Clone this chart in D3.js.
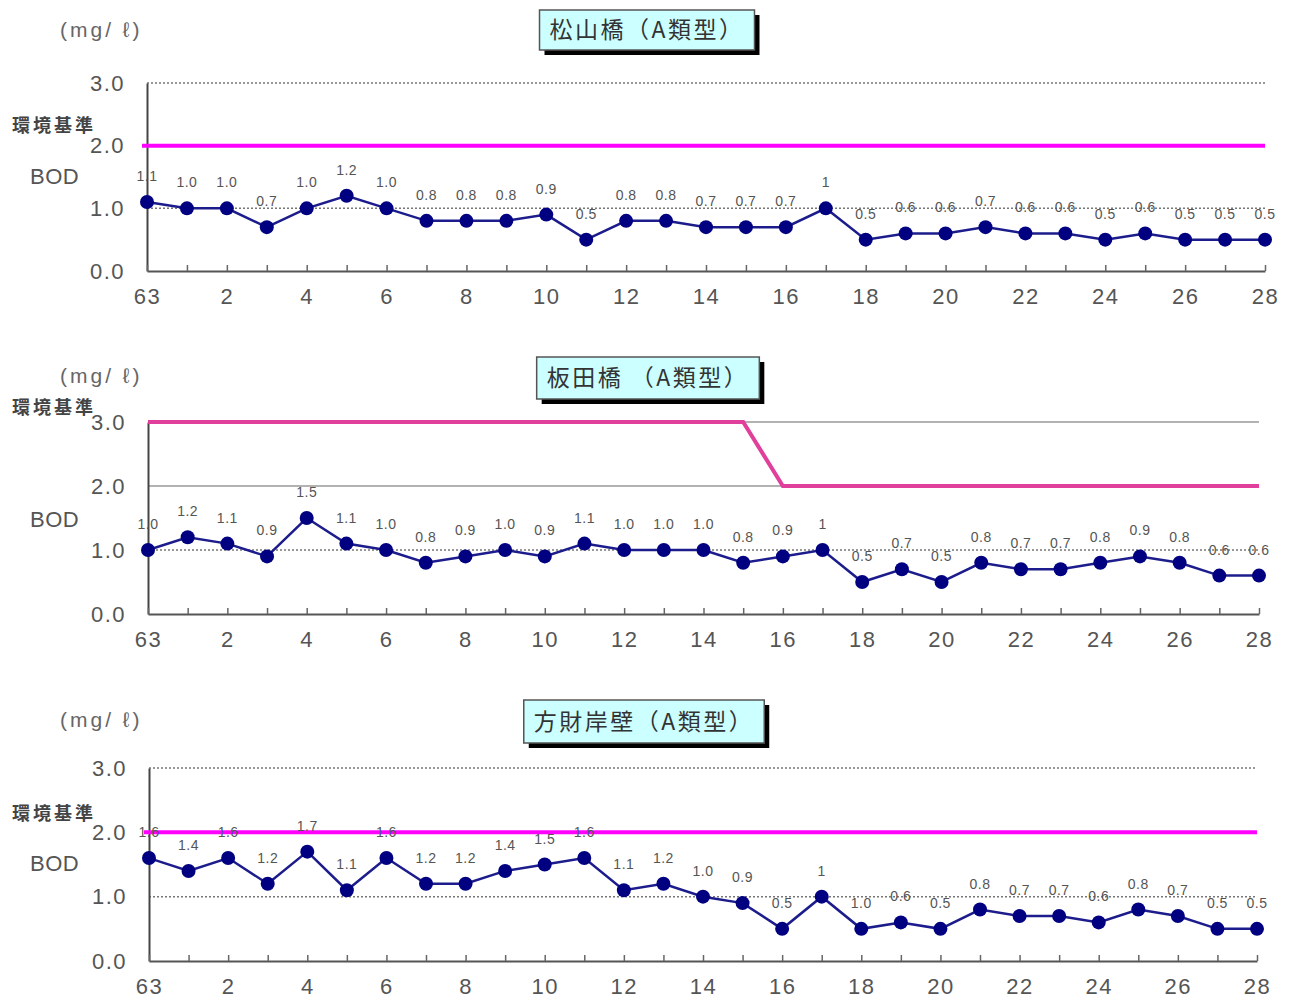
<!DOCTYPE html>
<html><head><meta charset="utf-8">
<script src="https://cdn.jsdelivr.net/npm/d3@7"></script>
<style>
body{margin:0;background:#fff;}
svg{display:block;}
text{font-family:"Liberation Sans",Arial,sans-serif;}
.cjk{font-family:"Noto Sans CJK JP",sans-serif;}
</style></head>
<body>
<svg id="chart" width="1293" height="998"></svg>
<script>
// ---- data ----
const years = ["63","1","2","3","4","5","6","7","8","9","10","11","12","13","14","15","16","17","18","19","20","21","22","23","24","25","26","27","28"];
const tickYears = ["63","2","4","6","8","10","12","14","16","18","20","22","24","26","28"];
const yTicks = [0, 1, 2, 3];
const titles = ["松山橋（A類型）", "板田橋 （A類型）", "方財岸壁（A類型）"];

const bodMatsuyama = [1.1,1.0,1.0,0.7,1.0,1.2,1.0,0.8,0.8,0.8,0.9,0.5,0.8,0.8,0.7,0.7,0.7,1.0,0.5,0.6,0.6,0.7,0.6,0.6,0.5,0.6,0.5,0.5,0.5];
const lblMatsuyama = ["1.1","1.0","1.0","0.7","1.0","1.2","1.0","0.8","0.8","0.8","0.9","0.5","0.8","0.8","0.7","0.7","0.7","1","0.5","0.6","0.6","0.7","0.6","0.6","0.5","0.6","0.5","0.5","0.5"];
const stdMatsuyama = [2,2,2,2,2,2,2,2,2,2,2,2,2,2,2,2,2,2,2,2,2,2,2,2,2,2,2,2,2];

const bodItada = [1.0,1.2,1.1,0.9,1.5,1.1,1.0,0.8,0.9,1.0,0.9,1.1,1.0,1.0,1.0,0.8,0.9,1.0,0.5,0.7,0.5,0.8,0.7,0.7,0.8,0.9,0.8,0.6,0.6];
const lblItada = ["1.0","1.2","1.1","0.9","1.5","1.1","1.0","0.8","0.9","1.0","0.9","1.1","1.0","1.0","1.0","0.8","0.9","1","0.5","0.7","0.5","0.8","0.7","0.7","0.8","0.9","0.8","0.6","0.6"];
const stdItada = [3,3,3,3,3,3,3,3,3,3,3,3,3,3,3,3,2,2,2,2,2,2,2,2,2,2,2,2,2];

const bodHozai = [1.6,1.4,1.6,1.2,1.7,1.1,1.6,1.2,1.2,1.4,1.5,1.6,1.1,1.2,1.0,0.9,0.5,1.0,0.5,0.6,0.5,0.8,0.7,0.7,0.6,0.8,0.7,0.5,0.5];
const lblHozai = ["1.6","1.4","1.6","1.2","1.7","1.1","1.6","1.2","1.2","1.4","1.5","1.6","1.1","1.2","1.0","0.9","0.5","1","1.0","0.6","0.5","0.8","0.7","0.7","0.6","0.8","0.7","0.5","0.5"];
const stdHozai = [2,2,2,2,2,2,2,2,2,2,2,2,2,2,2,2,2,2,2,2,2,2,2,2,2,2,2,2,2];

// ---- layout ----
const panels = [
  {title:titles[0], bod:bodMatsuyama, lbl:lblMatsuyama, std:stdMatsuyama, x0:147, x1:1265, yTop:83, yBot:271,
   titleCx:647, titleY:10, titleH:40, unitY:30, kijunY:125, bodY:176, stdColor:"#ff00ff", grid:["dot","dot","dot"], stdExt:5},
  {title:titles[1], bod:bodItada, lbl:lblItada, std:stdItada, x0:148, x1:1259, yTop:422, yBot:614,
   titleCx:648, titleY:357, titleH:42, unitY:376, kijunY:407, bodY:519, stdColor:"#e0409c", grid:["dot","solid","solid"], stdExt:0},
  {title:titles[2], bod:bodHozai, lbl:lblHozai, std:stdHozai, x0:149, x1:1257, yTop:768, yBot:961,
   titleCx:644, titleY:700, titleH:43, unitY:720, kijunY:813, bodY:863, stdColor:"#ff00ff", grid:["dot","dot","dot"], stdExt:5}
];

const svg = d3.select("#chart");

panels.forEach(p => {
  const g = svg.append("g");
  const x = d3.scalePoint().domain(years).range([p.x0, p.x1]);
  const y = d3.scaleLinear().domain([0, 3]).range([p.yBot, p.yTop]);

  // gridlines
  [1,2,3].forEach((v,i) => {
    g.append("line").attr("x1", p.x0).attr("x2", p.x1).attr("y1", y(v)).attr("y2", y(v))
      .attr("stroke", p.grid[i]==="dot" ? "#777" : "#999").attr("stroke-width", 1.5)
      .attr("stroke-dasharray", p.grid[i]==="dot" ? "2,2" : null);
  });

  // y axis
  const ya = d3.axisLeft(y).tickValues(yTicks).tickFormat(d3.format(".1f")).tickSize(0).tickPadding(22);
  const yg = g.append("g").attr("transform", `translate(${p.x0},0)`).call(ya);
  yg.select(".domain").attr("stroke", "#444").attr("stroke-width", 2);
  yg.selectAll("text").attr("font-size", 22).attr("fill", "#555").attr("letter-spacing", 1.5);

  // x axis
  const xa = d3.axisBottom(x).tickSizeInner(-6).tickSizeOuter(0).tickPadding(17)
    .tickFormat(d => tickYears.includes(d) ? d : "");
  const xg = g.append("g").attr("transform", `translate(0,${p.yBot})`).call(xa);
  xg.select(".domain").attr("stroke", "#555").attr("stroke-width", 2);
  xg.selectAll(".tick line").attr("stroke", "#666").attr("stroke-width", 1.5);
  xg.selectAll("text").attr("font-size", 22).attr("fill", "#555").attr("letter-spacing", 1.5);

  // environmental standard line
  const stdLine = d3.line()
    .x((d,i) => x(years[i]) - (i === 0 ? p.stdExt : 0))
    .y(d => y(d));
  g.append("path").datum(p.std).attr("d", stdLine)
    .attr("fill", "none").attr("stroke", p.stdColor).attr("stroke-width", 4);

  // BOD line
  const line = d3.line().x((d,i) => x(years[i])).y(d => y(d));
  g.append("path").datum(p.bod).attr("d", line)
    .attr("fill", "none").attr("stroke", "#1c1c8c").attr("stroke-width", 2.5);
  g.selectAll("circle.pt").data(p.bod).join("circle").attr("class","pt")
    .attr("cx", (d,i) => x(years[i])).attr("cy", d => y(d)).attr("r", 7).attr("fill", "#000080");

  // value labels
  g.selectAll("text.vl").data(p.lbl).join("text").attr("class","vl")
    .attr("x", (d,i) => x(years[i])).attr("y", (d,i) => y(p.bod[i]) - 21)
    .attr("text-anchor", "middle").attr("font-size", 14).attr("fill", "#555").attr("letter-spacing", 0.5)
    .text(d => d);

  // left texts
  g.append("text").attr("x", 60).attr("y", p.unitY + 7).attr("font-size", 21).attr("fill", "#666")
    .attr("letter-spacing", 3).text("(mg/ ℓ)");
  g.append("text").attr("class","cjk").attr("x", 12).attr("y", p.kijunY + 7).attr("font-size", 18)
    .attr("fill", "#444").attr("letter-spacing", 3).attr("font-weight", "bold").text("環境基準");
  g.append("text").attr("x", 30).attr("y", p.bodY + 8).attr("font-size", 22).attr("fill", "#555")
    .attr("letter-spacing", 0.5).text("BOD");

  // title box
  const tg = g.append("g");
  const tt = tg.append("text").attr("class","cjk").attr("x", p.titleCx).attr("y", p.titleY + p.titleH/2 + 8)
    .attr("text-anchor", "middle").attr("font-size", 23).attr("fill", "#333").attr("letter-spacing", 2.5).text(p.title);
  const bb = tt.node().getBBox();
  const bw = bb.width + 20;
  tg.insert("rect", "text").attr("x", p.titleCx - bw/2 + 5).attr("y", p.titleY + 5).attr("width", bw).attr("height", p.titleH).attr("fill", "#000");
  tg.insert("rect", "text").attr("x", p.titleCx - bw/2).attr("y", p.titleY).attr("width", bw).attr("height", p.titleH)
    .attr("fill", "#ccffff").attr("stroke", "#555").attr("stroke-width", 1.5);
});
</script>
</body></html>
